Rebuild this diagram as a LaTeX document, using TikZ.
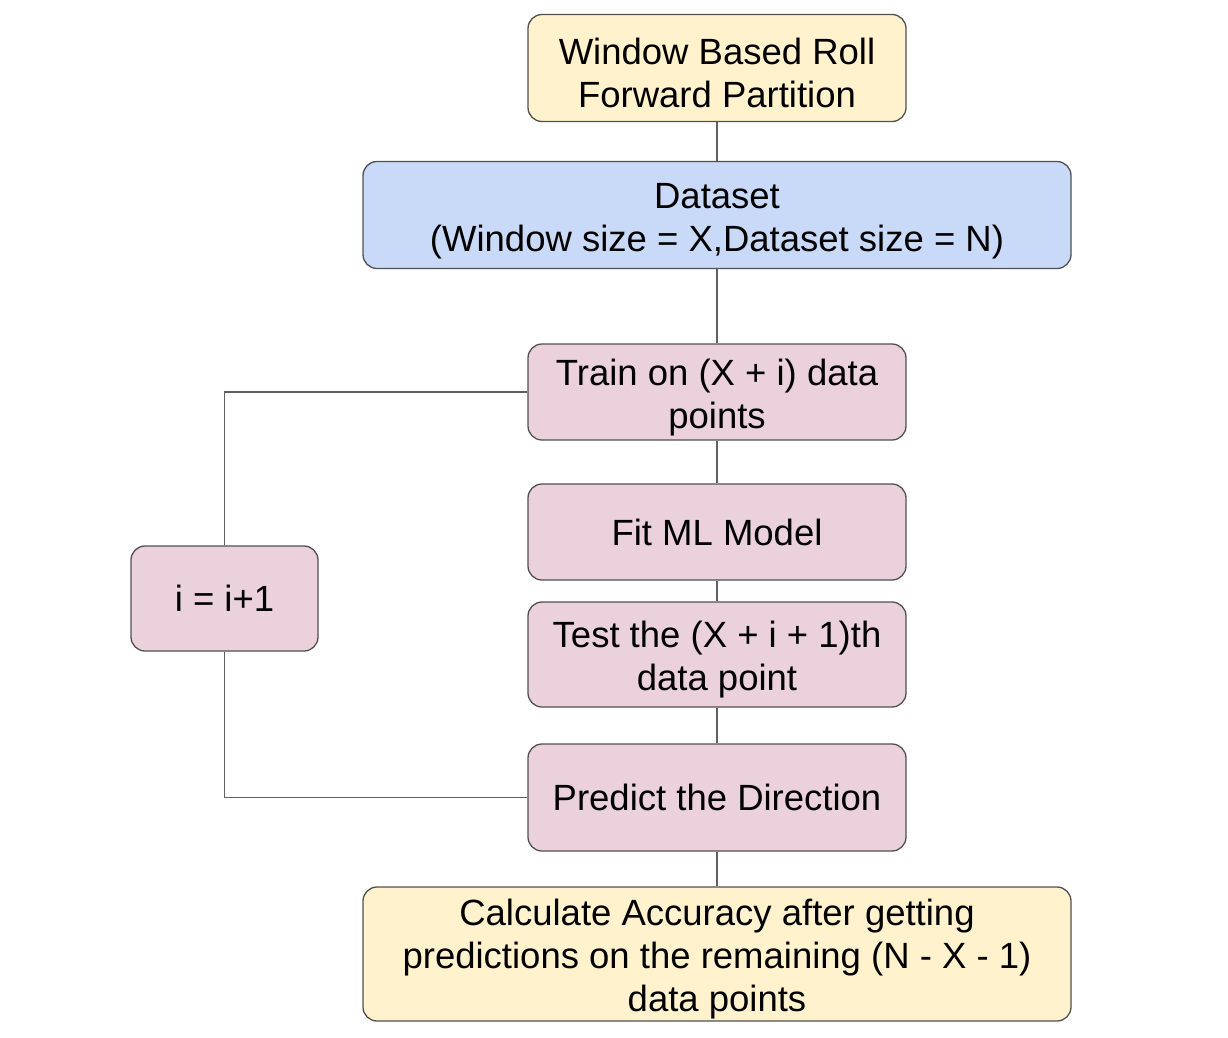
\documentclass[tikz,border=0pt]{standalone}
\usepackage{fontspec}
\setmainfont{Liberation Sans}
\usepackage{tikz}
\usetikzlibrary{positioning}
\definecolor{paleyellow}{HTML}{FFF2CC}
\definecolor{paleblue}{HTML}{C9DAF8}
\definecolor{palepink}{HTML}{EAD1DC}
\definecolor{edgegrey}{HTML}{505050}
\definecolor{wiregrey}{HTML}{606060}
\newcommand{\padtop}{\rule{0pt}{37pt}}
\tikzstyle{block} = [rectangle, draw=edgegrey, line width=1.3pt, rounded corners=14pt, minimum width=378pt, minimum height=96pt, align=center, inner sep=0pt, font=\fontsize{36.5}{43}\selectfont]
\tikzstyle{wide}  = [block, minimum width=708pt]
\tikzstyle{line}  = [draw=wiregrey, line width=1.3pt]

\begin{document}
\begin{tikzpicture}[x=1pt, y=1pt, node distance=147pt]
        \useasboundingbox (0,0) rectangle (1228,-1037);
        \node [block, fill=paleyellow, minimum height=107pt] at (717,-68) (part) {\padtop Window Based Roll\\Forward Partition};
        \node [wide, fill=paleblue, minimum height=107pt, below of=part] (data) {\padtop Dataset\\(Window size = X,Dataset size = N)};
        \node [block, fill=palepink, below of=data, node distance=177pt] (train) {\padtop Train on (X + i) data\\points};
        \node [block, fill=palepink, below of=train, node distance=140pt] (fit) {Fit ML Model};
        \node [block, fill=palepink, minimum height=105pt, below of=fit, node distance=122.5pt] (test) {\padtop Test the (X + i + 1)th\\data point};
        \node [block, fill=palepink, minimum height=107pt, below of=test, node distance=143pt] (pred) {Predict the Direction};
        \node [wide, fill=paleyellow, minimum height=134pt, below of=pred, node distance=156.5pt] (acc) {\padtop Calculate Accuracy after getting\\predictions on the remaining (N - X - 1)\\data points};
        \node [block, fill=palepink, minimum width=187pt, minimum height=105pt] at (224.5,-598.5) (incr) {i = i+1};
        \path [line] (part) -- (data);
        \path [line] (data) -- (train);
        \path [line] (train) -- (fit);
        \path [line] (fit) -- (test);
        \path [line] (test) -- (pred);
        \path [line] (pred) -- (acc);
		\path [line] (train.west) -| (incr.north);
		\path [line] (incr.south) |- (pred.west);
    \end{tikzpicture}
\end{document}
